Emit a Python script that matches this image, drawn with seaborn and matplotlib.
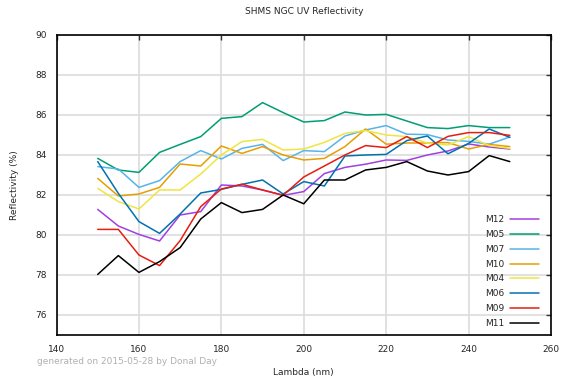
import numpy as np
import pandas as pd
import matplotlib
matplotlib.use("Agg")
import matplotlib.pyplot as plt
import seaborn as sns

# Wavelength grid (nm)
wavelength = [150, 155, 160, 165, 170, 175, 180, 185, 190, 195, 200,
              205, 210, 215, 220, 225, 230, 235, 240, 245, 250]

# Reflectivity (%) per mirror
m12 = [81.28, 80.45, 80.03, 79.70, 81.00, 81.17, 82.50, 82.45, 82.25, 81.98, 82.17,
       83.07, 83.38, 83.54, 83.75, 83.73, 84.00, 84.20, 84.55, 84.40, 84.30]
m05 = [83.83, 83.25, 83.13, 84.13, 84.53, 84.92, 85.83, 85.92, 86.62, 86.12, 85.65,
       85.72, 86.15, 86.00, 86.03, 85.70, 85.37, 85.32, 85.47, 85.37, 85.37]
m07 = [83.42, 83.30, 82.38, 82.72, 83.67, 84.22, 83.80, 84.33, 84.53, 83.72, 84.22,
       84.17, 84.95, 85.25, 85.47, 85.04, 85.02, 84.75, 84.68, 84.54, 84.90]
m10 = [82.83, 81.95, 82.05, 82.38, 83.55, 83.45, 84.45, 84.08, 84.42, 84.00, 83.75,
       83.83, 84.42, 85.30, 84.54, 84.60, 84.60, 84.62, 84.30, 84.53, 84.42]
m04 = [82.33, 81.67, 81.30, 82.25, 82.25, 83.05, 84.00, 84.67, 84.78, 84.25, 84.30,
       84.63, 85.08, 85.22, 85.00, 84.92, 84.60, 84.50, 84.92, 84.47, 84.33]
m06 = [83.67, 82.08, 80.67, 80.08, 81.05, 82.10, 82.28, 82.53, 82.75, 82.05, 82.67,
       82.45, 83.95, 84.00, 84.03, 84.72, 84.95, 84.06, 84.58, 85.30, 84.88]
m09 = [80.28, 80.28, 79.00, 78.47, 79.72, 81.42, 82.30, 82.54, 82.25, 81.99, 82.90,
       83.45, 84.00, 84.47, 84.37, 84.92, 84.37, 84.93, 85.12, 85.12, 84.98]
m11 = [78.03, 78.97, 78.13, 78.67, 79.37, 80.80, 81.62, 81.12, 81.28, 82.00, 81.56,
       82.75, 82.75, 83.25, 83.38, 83.67, 83.20, 83.00, 83.17, 83.97, 83.67]

mirrors = ["M12", "M05", "M07", "M10", "M04", "M06", "M09", "M11"]
series = [m12, m05, m07, m10, m04, m06, m09, m11]
colors = ["#a040e0", "#009e73", "#56b4e9", "#e69f00",
          "#f0e442", "#0072b2", "#e51e10", "#000000"]

x_ticks = [140, 160, 180, 200, 220, 240, 260]
y_ticks = [76, 78, 80, 82, 84, 86, 88, 90]

rows = []
for name, vals in zip(mirrors, series):
    for wl, v in zip(wavelength, vals):
        rows.append({"Lambda (nm)": wl, "Reflectivity (%)": v, "mirror": name})
df = pd.DataFrame(rows)

sns.set_style("white")
plt.rcParams["font.family"] = ["DejaVu Sans"]
fs = 6.5

fig = plt.figure(figsize=(5.63, 3.79), dpi=100)
ax = fig.add_axes([0.1004, 0.1161, 0.9787 - 0.1004, 0.9077 - 0.1161])

sns.lineplot(data=df, x="Lambda (nm)", y="Reflectivity (%)", hue="mirror",
             hue_order=mirrors, palette=dict(zip(mirrors, colors)),
             linewidth=1.1, ax=ax, legend=True)

ax.set_xlim(140, 260)
ax.set_ylim(75, 90)
ax.set_xticks(x_ticks)
ax.set_yticks(y_ticks)
ax.grid(True, color="#dcdcdc", linewidth=1.2)
ax.set_axisbelow(True)
for s in ax.spines.values():
    s.set_color("black")
    s.set_linewidth(1.2)
ax.tick_params(direction="in", length=3.5, width=1.0, color="#333333",
               top=True, right=True, labelsize=fs, pad=7)

ax.set_xlabel("Lambda (nm)", fontsize=fs, labelpad=10)
ax.set_ylabel("Reflectivity (%)", fontsize=fs, labelpad=12)
ax.set_title("SHMS NGC UV Reflectivity", fontsize=fs, pad=15)

handles, labels = ax.get_legend_handles_labels()
ax.legend(handles, labels, loc="lower right", bbox_to_anchor=(0.99, 0.0),
          frameon=False, fontsize=fs, markerfirst=False, handlelength=3.2,
          labelspacing=0.64, borderaxespad=0.4, handletextpad=0.6)

fig.text(0.065, 0.047, "generated on 2015-05-28 by Donal Day",
         fontsize=fs, color="#b0b0b0", ha="left", va="center")

fig.savefig("out.png", dpi=100)
